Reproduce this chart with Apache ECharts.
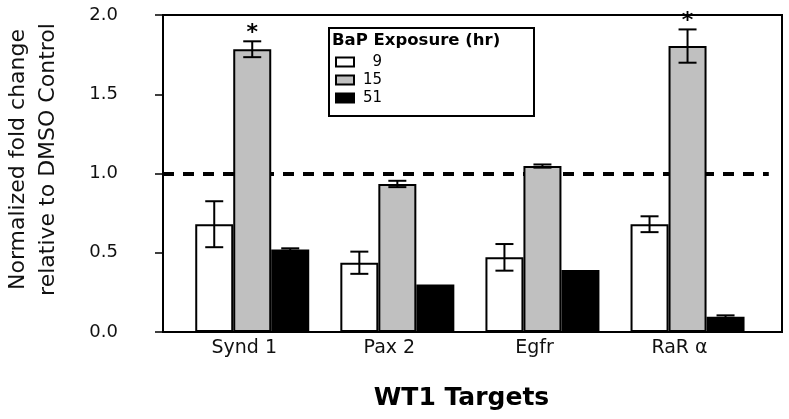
<!DOCTYPE html>
<html>
<head>
<meta charset="UTF-8">
<title>WT1 Targets</title>
<script src="https://cdn.jsdelivr.net/npm/echarts@6/dist/echarts.min.js"></script>
<style>
    html, body { margin: 0; padding: 0; background: #fff; }
    #chart { width: 789px; height: 419px; }
</style>
</head>
<body>
<div id="chart"></div>
<script>
    // data
    var categories = ['Synd 1', 'Pax 2', 'Egfr', 'RaR α'];
    var exposures = ['9', '15', '51'];
    var val9 = [0.68, 0.437, 0.471, 0.68];
    var err9 = [0.145, 0.07, 0.084, 0.05];
    var val15 = [1.784, 0.934, 1.047, 1.804];
    var err15 = [0.05, 0.02, 0.01, 0.105];
    var val51 = [0.52, 0.30, 0.391, 0.097];
    var err51 = [0.008, 0, 0, 0.008];
    var signif15 = [1, 0, 0, 1];
    var yTicks = [0, 0.5, 1.0, 1.5, 2.0];
    var controlLevel = 1.0;

    var FONT = 'DejaVu Sans';
    var BAR_W = 38;
    var colors = ['#ffffff', '#c0c0c0', '#000000'];

    function barSeries(k, vals) {
        return {
            name: exposures[k],
            type: 'bar',
            barWidth: BAR_W,
            barGap: '0%',
            z: 2,
            itemStyle: { color: colors[k], borderColor: '#000', borderWidth: 2 },
            data: vals.map(function (v, i) { return [i, v]; })
        };
    }

    function errSeries(k, vals, errs, stars) {
        return {
            type: 'custom',
            z: 5,
            silent: true,
            data: vals.map(function (v, i) { return [i, v, errs[i], stars ? stars[i] : 0]; }),
            renderItem: function (params, api) {
                var x = api.value(0), v = api.value(1), e = api.value(2);
                var top = api.coord([x, v + e]);
                var bot = api.coord([x, v - e]);
                var cx = top[0] + (k - 1) * BAR_W;
                var ln = { stroke: '#000', lineWidth: 2 };
                var children = [];
                if (e > 0) {
                    children.push({ type: 'line', shape: { x1: cx, y1: top[1], x2: cx, y2: bot[1] }, style: ln });
                    children.push({ type: 'line', shape: { x1: cx - 9, y1: top[1], x2: cx + 9, y2: top[1] }, style: ln });
                    children.push({ type: 'line', shape: { x1: cx - 9, y1: bot[1], x2: cx + 9, y2: bot[1] }, style: ln });
                }
                if (api.value(3)) {
                    children.push({
                        type: 'text',
                        style: {
                            text: '*', x: cx, y: top[1] - 8, align: 'center', verticalAlign: 'middle',
                            fill: '#000', font: 'bold 22px "' + FONT + '"'
                        }
                    });
                }
                return { type: 'group', children: children };
            }
        };
    }

    var myChart = echarts.init(document.getElementById('chart'));

    // dashed control line sits on the middle (unshifted) bar series
    var s1 = barSeries(1, val15);
    s1.markLine = {
        silent: true,
        z: 1,
        symbol: 'none',
        label: { show: false },
        lineStyle: { color: '#000', width: 4, type: [11, 9] },
        data: [[{ coord: [-0.615, controlLevel] }, { coord: [3.56, controlLevel] }]]
    };

    var option = {
        animation: false,
        backgroundColor: '#fff',
        textStyle: { fontFamily: FONT },
        grid: {
            left: 163, right: 7, top: 15, bottom: 87,
            outerBoundsMode: 'none',
            containLabel: false,
            show: true, borderColor: '#000', borderWidth: 2, backgroundColor: 'transparent'
        },
        legend: {
            orient: 'vertical',
            left: 330,
            top: 48,
            data: exposures,
            icon: 'rect',
            itemWidth: 18,
            itemHeight: 9,
            itemGap: 0,
            selectedMode: false,
            textStyle: { fontFamily: FONT, fontSize: 15, color: '#000', lineHeight: 18, padding: [0, 0, 0, 4] },
            formatter: function (n) { return n.length < 2 ? '\u2007' + n : n; }
        },
        graphic: [
            {
                type: 'rect', left: 328, top: 27, z: 10,
                shape: { width: 205, height: 88 },
                style: { fill: 'transparent', stroke: '#000', lineWidth: 2 }
            },
            {
                type: 'text', left: 332, top: 32, z: 10,
                style: { text: 'BaP Exposure (hr)', fill: '#000', font: 'bold 16.5px "' + FONT + '"' }
            }
        ],
        xAxis: {
            type: 'value',
            min: -0.615,
            max: 3.651,
            splitLine: { show: false },
            axisLine: { show: true, onZero: false, lineStyle: { color: '#000', width: 2 } },
            axisTick: { show: false },
            axisLabel: {
                customValues: [0, 1, 2, 3],
                formatter: function (v) { return categories[Math.round(v)]; },
                fontFamily: FONT, fontSize: 19, color: '#111', margin: 7,
                padding: [0, 16, 0, 0]
            },
            name: 'WT1 Targets',
            nameLocation: 'middle',
            nameGap: 54,
            nameTextStyle: {
                fontFamily: FONT, fontSize: 25, fontWeight: 'bold', color: '#000',
                lineHeight: 25, padding: [0, 22, 0, 0]
            }
        },
        yAxis: {
            type: 'value',
            min: yTicks[0],
            max: yTicks[yTicks.length - 1],
            interval: 0.5,
            splitLine: { show: false },
            axisLine: { show: true, onZero: false, lineStyle: { color: '#000', width: 2 } },
            axisTick: { show: true, inside: false, length: 8, lineStyle: { color: '#000', width: 1.5 } },
            axisLabel: {
                formatter: function (v) { return v.toFixed(1); },
                fontFamily: FONT, fontSize: 18, color: '#111', margin: 45
            },
            name: 'Normalized fold change\nrelative to DMSO Control',
            nameLocation: 'middle',
            nameGap: 100,
            nameTextStyle: {
                fontFamily: FONT, fontSize: 22, color: '#111', lineHeight: 30,
                padding: [0, 0, 0, 28]
            }
        },
        series: [
            barSeries(0, val9),
            s1,
            barSeries(2, val51),
            errSeries(0, val9, err9),
            errSeries(1, val15, err15, signif15),
            errSeries(2, val51, err51)
        ]
    };
    myChart.setOption(option);
</script>
</body>
</html>
